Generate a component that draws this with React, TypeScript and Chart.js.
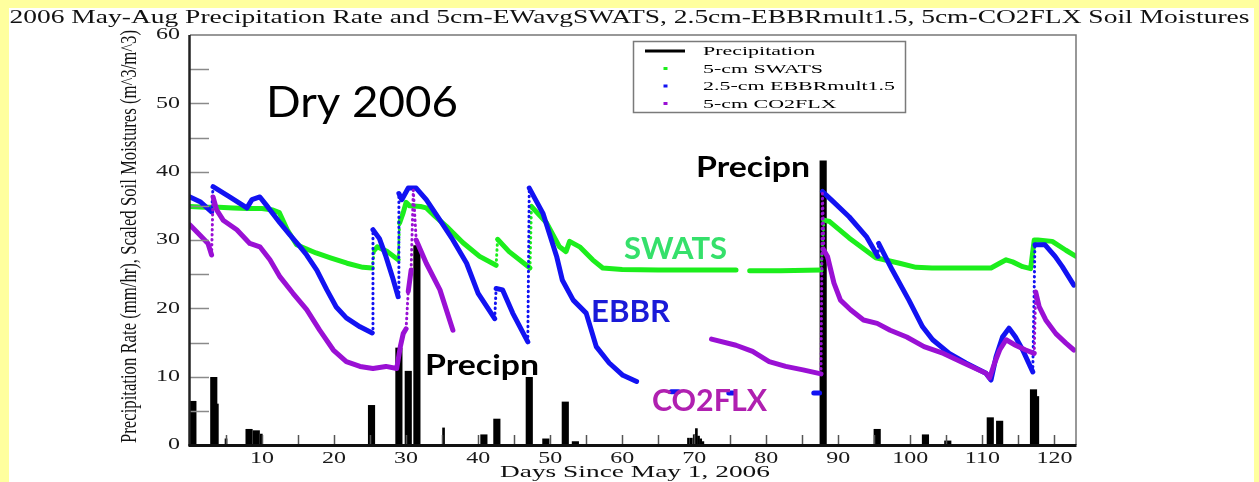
import React, { useEffect, useRef } from "react";
import { Chart, registerables } from "chart.js";

Chart.register(...registerables);

const chartTitle =
  "2006 May-Aug Precipitation Rate and 5cm-EWavgSWATS, 2.5cm-EBBRmult1.5, 5cm-CO2FLX Soil Moistures";
const yAxisTitle = "Precipitation Rate (mm/hr), Scaled Soil Moistures (m^3/m^3)";
const xAxisTitle = "Days Since May 1, 2006";
const seriesNames = ["Precipitation", "5-cm SWATS", "2.5-cm EBBRmult1.5", "5-cm CO2FLX"];

const xTickLabels = [10, 20, 30, 40, 50, 60, 70, 80, 90, 100, 110, 120];
const yTickLabels = [0, 10, 20, 30, 40, 50, 60];

// Precipitation rate (mm/hr): roughly day-wide events
const rainDays = [0.4, 3.3, 8.2, 9.2, 25.2, 29.0, 30.3, 31.5, 40.8, 42.6, 47.1, 49.4, 52.1, 53.5, 87.9, 95.4, 102.1, 105.2, 111.1, 112.4, 117.1];
const rainRates = [6.4, 9.9, 2.3, 2.1, 5.8, 14.2, 10.8, 29.2, 1.5, 3.8, 9.9, 0.9, 6.3, 0.5, 41.6, 2.3, 1.5, 0.6, 4.0, 3.5, 8.1];

// Precipitation rate (mm/hr): short bursts
const burstDays = [3.8, 5.0, 9.9, 35.2, 69.2, 69.6, 70.0, 70.3, 70.6, 70.9, 71.2, 117.7];
const burstRates = [6.0, 0.9, 1.6, 2.5, 1.0, 1.0, 1.5, 2.4, 1.3, 0.9, 0.5, 7.1];

// Soil moisture records; null marks a break in the record
const swatsDays = [0, 2, 4, 6, 8, 10, 11.5, 12.4, 13.5, 14.8, 17.5, 19.5, 21.8, 24, 25.3, 25.6, 26.0, 27.4, 28.9, 29.1, 29.6, 30.0, 30.5, 32.0, 32.8, 34.0, 35.6, 37.9, 40.2, 42.5, 42.7, 44.3, 47.2, 47.4, 49.5, 51.3, 52.2, 52.7, 54.1, 55.9, 57.3, 60, 65, 70, 75.8, 76.7, 77.7, 82, 87.6, 88.0, 88.8, 91.5, 95.2, 98.5, 100.8, 103, 111.2, 112.4, 113.3, 114.2, 115.6, 116.7, 117.2, 117.7, 119.7, 121.6, 123];
const swatsMoisture = [34.9, 34.8, 34.8, 34.7, 34.6, 34.6, 34.4, 34.0, 31.5, 29.3, 28.1, 27.4, 26.6, 26.0, 25.9, 28.5, 29.0, 28.3, 27.1, 32.5, 34.0, 35.5, 35.0, 34.9, 34.7, 33.5, 32.0, 29.6, 27.6, 26.3, 30.1, 28.3, 25.9, 34.9, 32.5, 29.0, 28.3, 29.8, 29.0, 27.1, 25.9, 25.7, 25.6, 25.6, 25.6, null, 25.5, 25.5, 25.6, 32.9, 32.7, 30.3, 27.4, 26.6, 26.0, 25.9, 25.9, 26.6, 27.1, 26.8, 26.1, 25.8, 30.0, 30.0, 29.8, 28.5, 27.6];

const ebbrDays = [0, 1.4, 3.0, 3.2, 5.5, 7.9, 8.6, 9.7, 10.6, 12.5, 13.9, 15.3, 16.2, 17.6, 19.0, 20.3, 21.7, 23.6, 25.3, 25.4, 26.3, 27.2, 28.1, 28.9, 29.0, 29.4, 30.3, 31.4, 32.8, 34.7, 36.5, 38.4, 40.0, 42.3, 42.5, 43.4, 44.8, 46.9, 47.1, 49.0, 50.9, 51.7, 53.2, 55.0, 56.4, 58.2, 60.1, 62.0, 64.0, 66.8, 67.8, 71.0, 74.8, 75.4, 80.0, 86.6, 87.4, 87.6, 87.8, 89.0, 91.5, 93.9, 95.5, 95.6, 97.5, 99.8, 101.7, 103.1, 105.4, 107.7, 110.5, 111.2, 111.9, 112.8, 113.7, 114.6, 115.6, 117.0, 117.3, 118.7, 120.1, 121.1, 122.7];
const ebbrMoisture = [36.3, 35.6, 34.1, 37.8, 36.3, 34.7, 35.9, 36.3, 35.1, 32.5, 30.7, 29.0, 27.8, 25.6, 22.7, 20.2, 18.6, 17.3, 16.4, 31.5, 30.2, 27.6, 24.6, 21.7, 36.8, 35.9, 37.6, 37.6, 35.9, 32.9, 30.0, 26.6, 22.2, 18.5, 22.9, 22.7, 19.3, 15.1, 37.6, 33.9, 27.6, 24.1, 21.2, 19.3, 14.4, 12.0, 10.2, 9.3, null, 7.8, 7.8, null, 7.6, 7.6, null, 7.6, 7.6, null, 37.1, 35.9, 33.4, 30.5, 27.6, 29.5, 25.6, 21.2, 17.3, 15.4, 13.4, 12.0, 10.5, 9.5, 12.9, 15.8, 17.1, 15.8, 13.9, 10.7, 29.3, 29.3, 27.6, 26.1, 23.4];

const co2flxDays = [0, 1.4, 2.5, 3.0, 3.2, 3.7, 4.6, 6.5, 8.3, 9.7, 11.1, 12.5, 14.3, 16.2, 18.0, 19.9, 21.7, 23.6, 25.4, 27.2, 28.7, 29.2, 29.6, 30.0, 30.3, 30.7, 31.0, 31.4, 32.8, 34.7, 36.5, 50, 72.4, 75.8, 78.1, 80.4, 82.7, 85.1, 87.6, 87.8, 88.0, 88.5, 89.4, 90.3, 91.7, 93.5, 95.4, 97.2, 99.5, 101.9, 104.6, 107.4, 110.5, 111.0, 111.7, 112.4, 113.3, 114.6, 116.0, 117.2, 117.4, 117.9, 118.8, 120.2, 121.6, 122.7];
const co2flxMoisture = [32.2, 30.7, 29.5, 27.8, 36.3, 34.4, 32.9, 31.5, 29.5, 29.0, 27.1, 24.6, 22.2, 19.8, 16.8, 13.9, 12.2, 11.5, 11.2, 11.5, 11.2, 14.4, 16.3, 17.0, 22.5, 25.6, 37.3, 30.0, 26.6, 22.7, 16.8, null, 15.5, 14.6, 13.7, 12.2, 11.5, 11.0, 10.4, 36.8, 28.5, 27.6, 23.7, 21.2, 19.8, 18.3, 17.8, 16.8, 15.8, 14.4, 13.4, 12.0, 10.5, 9.8, 12.0, 13.9, 15.4, 14.6, 13.9, 13.4, 22.4, 20.2, 18.3, 16.3, 14.9, 13.9];

const GREEN = "#1cee1c";
const BLUE = "#1212f2";
const PURPLE = "#9a10d4";
const SERIF = '"Liberation Serif", "DejaVu Serif", serif';
const SANS = 'Lato, "Open Sans", "Noto Sans", sans-serif';

const toPoints = (xs: number[], ys: (number | null)[]) => xs.map((x, i) => ({ x, y: ys[i] }));

// Near-vertical jumps after rain are sparse readings: draw them dotted.
const isJump = (c: any) => {
  const dx = Math.abs(c.p1.x - c.p0.x);
  const dy = Math.abs(c.p1.y - c.p0.y);
  return dy > 8 * Math.max(dx, 0.5);
};

function moistureSeries(label: string, xs: number[], ys: (number | null)[], color: string, order: number) {
  return {
    type: "line" as const,
    label,
    data: toPoints(xs, ys),
    borderColor: color,
    backgroundColor: color,
    borderWidth: 5,
    borderCapStyle: "round" as const,
    borderJoinStyle: "round" as const,
    pointRadius: 0,
    tension: 0,
    spanGaps: false,
    order,
    segment: {
      borderWidth: (c: any) => (isJump(c) ? 3 : 5),
      borderDash: (c: any) => (isJump(c) ? [0.5, 4.5] : []),
    },
  };
}

function stretchText(ctx: CanvasRenderingContext2D, text: string, x: number, y: number, font: string, sx: number, align: CanvasTextAlign, baseline: CanvasTextBaseline) {
  ctx.save();
  ctx.font = font;
  ctx.textAlign = align;
  ctx.textBaseline = baseline;
  ctx.translate(x, y);
  ctx.scale(sx, 1);
  ctx.fillText(text, 0, 0);
  ctx.restore();
}

function fitText(ctx: CanvasRenderingContext2D, text: string, x: number, y: number, font: string, width: number, align: CanvasTextAlign, baseline: CanvasTextBaseline) {
  ctx.save();
  ctx.font = font;
  const w = ctx.measureText(text).width;
  ctx.restore();
  stretchText(ctx, text, x, y, font, width / w, align, baseline);
}

const decorations = {
  id: "decorations",
  beforeDraw(chart: any) {
    const ctx: CanvasRenderingContext2D = chart.ctx;
    ctx.save();
    ctx.fillStyle = "#ffffff";
    ctx.fillRect(9, 8, 1245, 474);
    ctx.restore();
  },
  afterDatasetsDraw(chart: any) {
    const ctx: CanvasRenderingContext2D = chart.ctx;
    const xs = chart.scales.x;
    const ys = chart.scales.y;
    const { left, right, top, bottom } = chart.chartArea;

    ctx.save();
    // inner tick marks
    ctx.strokeStyle = "#8a8a8a";
    ctx.lineWidth = 1.5;
    for (let v = 5; v < 60; v += 5) {
      const py = Math.round(ys.getPixelForValue(v)) + 0.5;
      ctx.beginPath();
      ctx.moveTo(left, py);
      ctx.lineTo(left + 19, py);
      ctx.stroke();
    }
    ctx.strokeStyle = "#555";
    for (let d = 5; d <= 120; d += 5) {
      const px = Math.round(xs.getPixelForValue(d)) + 0.5;
      ctx.beginPath();
      ctx.moveTo(px, bottom);
      ctx.lineTo(px, bottom - 10);
      ctx.stroke();
    }

    // frame
    ctx.strokeStyle = "#777";
    ctx.lineWidth = 1.5;
    ctx.beginPath();
    ctx.moveTo(left, top);
    ctx.lineTo(right, top);
    ctx.lineTo(right, bottom);
    ctx.stroke();
    ctx.strokeStyle = "#222";
    ctx.lineWidth = 2.5;
    ctx.beginPath();
    ctx.moveTo(left - 0.5, top);
    ctx.lineTo(left - 0.5, bottom + 1);
    ctx.stroke();
    ctx.strokeStyle = "#111";
    ctx.lineWidth = 3;
    ctx.beginPath();
    ctx.moveTo(left - 1.5, bottom + 0.5);
    ctx.lineTo(right + 0.5, bottom + 0.5);
    ctx.stroke();

    // tick labels
    ctx.fillStyle = "#1a1a1a";
    for (const v of yTickLabels) {
      stretchText(ctx, String(v), 180, ys.getPixelForValue(v), `16px ${SERIF}`, 1.5, "right", "middle");
    }
    for (const d of xTickLabels) {
      stretchText(ctx, String(d), xs.getPixelForValue(d), 459, `16px ${SERIF}`, 1.5, "center", "middle");
    }

    // titles
    ctx.fillStyle = "#111";
    fitText(ctx, chartTitle, 9.5, 23, `18px ${SERIF}`, 1240, "left", "alphabetic");
    fitText(ctx, xAxisTitle, 635, 473, `17px ${SERIF}`, 270, "center", "middle");
    ctx.save();
    ctx.font = `16px ${SERIF}`;
    const yw = ctx.measureText(yAxisTitle).width;
    ctx.translate(130, 236.5);
    ctx.rotate(-Math.PI / 2);
    ctx.scale(413 / yw, 1.45);
    ctx.textAlign = "center";
    ctx.textBaseline = "middle";
    ctx.fillText(yAxisTitle, 0, 0);
    ctx.restore();

    // legend box
    ctx.fillStyle = "#ffffff";
    ctx.fillRect(633, 41, 272, 71);
    ctx.strokeStyle = "#7a7a7a";
    ctx.lineWidth = 1.5;
    ctx.strokeRect(633.5, 41.5, 272, 71);
    const rows = [51, 68.5, 86, 103.5];
    const swatches = ["#000", GREEN, BLUE, PURPLE];
    ctx.font = `13.5px ${SERIF}`;
    const legendScale = 192 / ctx.measureText(seriesNames[2]).width;
    seriesNames.forEach((name, i) => {
      if (i === 0) {
        ctx.strokeStyle = "#000";
        ctx.lineWidth = 3;
        ctx.beginPath();
        ctx.moveTo(645, rows[i]);
        ctx.lineTo(685, rows[i]);
        ctx.stroke();
      } else {
        ctx.fillStyle = swatches[i];
        ctx.fillRect(663.5, rows[i] - 1.5, 4, 3);
      }
      ctx.fillStyle = "#000";
      stretchText(ctx, name, 703, rows[i] + 0.5, `13.5px ${SERIF}`, legendScale, "left", "middle");
    });

    // notes on the plot
    ctx.fillStyle = "#000";
    fitText(ctx, "Dry 2006", 266, 117, `42px ${SANS}`, 192, "left", "alphabetic");
    fitText(ctx, "Precipn", 696, 177, `bold 29px ${SANS}`, 114, "left", "alphabetic");
    fitText(ctx, "Precipn", 425, 375, `bold 29px ${SANS}`, 114, "left", "alphabetic");
    ctx.fillStyle = "#35e06b";
    fitText(ctx, "SWATS", 624, 259, `bold 30px ${SANS}`, 103, "left", "alphabetic");
    ctx.fillStyle = "#1a1ad8";
    fitText(ctx, "EBBR", 591, 321.5, `bold 30px ${SANS}`, 79, "left", "alphabetic");
    ctx.fillStyle = "#b020b0";
    fitText(ctx, "CO2FLX", 652, 410.5, `bold 30px ${SANS}`, 115, "left", "alphabetic");
    ctx.restore();
  },
};

export default function App() {
  const canvasRef = useRef<HTMLCanvasElement | null>(null);

  useEffect(() => {
    const canvas = canvasRef.current;
    if (!canvas) return;
    const chart = new Chart(canvas, {
      type: "line",
      data: {
        datasets: [
          {
            type: "bar",
            label: seriesNames[0],
            data: toPoints(rainDays, rainRates),
            backgroundColor: "#000",
            borderWidth: 0,
            barThickness: 6.5,
            maxBarThickness: 6.5,
            grouped: false,
            order: 10,
          },
          {
            type: "bar",
            label: seriesNames[0] + " bursts",
            data: toPoints(burstDays, burstRates),
            backgroundColor: "#000",
            borderWidth: 0,
            barThickness: 2,
            maxBarThickness: 2,
            grouped: false,
            order: 9,
          },
          moistureSeries(seriesNames[1], swatsDays, swatsMoisture, GREEN, 3),
          moistureSeries(seriesNames[2], ebbrDays, ebbrMoisture, BLUE, 2),
          moistureSeries(seriesNames[3], co2flxDays, co2flxMoisture, PURPLE, 1),
        ] as any,
      },
      options: {
        animation: false,
        responsive: false,
        devicePixelRatio: 1,
        events: [],
        layout: { padding: { left: 190, right: 183, top: 35, bottom: 37 } },
        plugins: {
          legend: { display: false },
          tooltip: { enabled: false },
          title: { display: false },
        },
        scales: {
          x: { type: "linear", min: 0, max: 123, offset: false, display: false },
          y: { type: "linear", min: 0, max: 60, display: false },
        },
      },
      plugins: [decorations],
    });
    return () => chart.destroy();
  }, []);

  return (
    <div
      style={{
        position: "fixed",
        left: 0,
        top: 0,
        width: 1259,
        height: 482,
        background: "#ffff9e",
        overflow: "hidden",
      }}
    >
      <canvas ref={canvasRef} width={1259} height={482} style={{ display: "block", width: 1259, height: 482 }} />
    </div>
  );
}
